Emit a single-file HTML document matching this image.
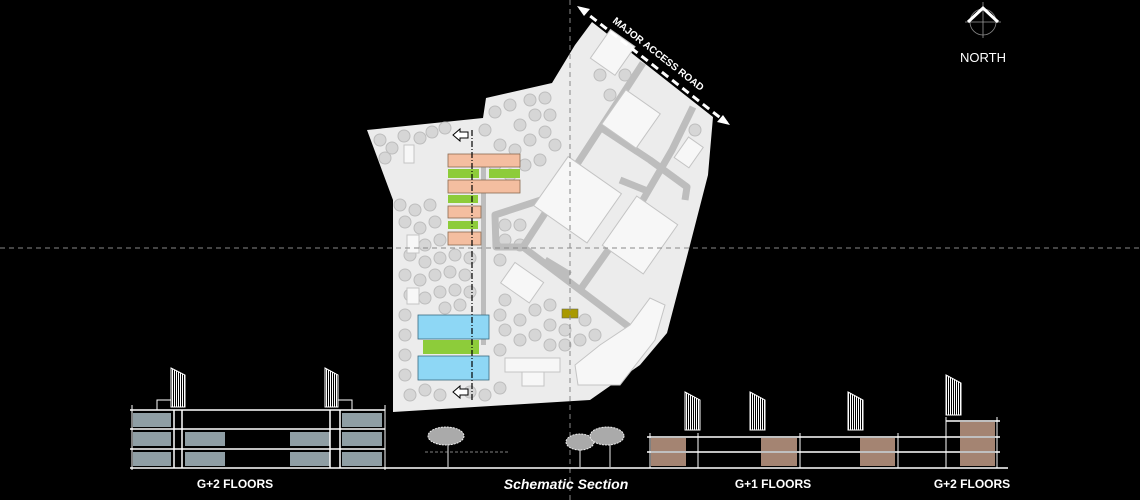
<!DOCTYPE html>
<html><head><meta charset="utf-8"><style>
html,body{margin:0;padding:0;background:#000;}
svg{display:block}
</style></head><body>
<svg width="1140" height="500" viewBox="0 0 1140 500" xmlns="http://www.w3.org/2000/svg" font-family="Liberation Sans, sans-serif">
<defs>
<pattern id="hatch" width="2" height="4" patternUnits="userSpaceOnUse"><rect width="1" height="4" fill="#fff"/></pattern>
</defs>
<rect width="1140" height="500" fill="#000"/>
<!-- site -->
<polygon points="367,130 483,118 486,98 552,83 575,45 592,22 713,117 708,175 690,245 667,333 640,365 590,400 393,412 393,200" fill="#ececec"/>
<!-- trees -->
<g fill="#d6d6d6" stroke="#bdbdbd" stroke-width="1">
<circle cx="380" cy="140" r="6"/><circle cx="392" cy="148" r="6"/><circle cx="385" cy="158" r="6"/><circle cx="404" cy="136" r="6"/><circle cx="420" cy="138" r="6"/><circle cx="432" cy="132" r="6"/><circle cx="445" cy="128" r="6"/><circle cx="485" cy="130" r="6"/><circle cx="495" cy="112" r="6"/><circle cx="510" cy="105" r="6"/><circle cx="530" cy="100" r="6"/><circle cx="545" cy="98" r="6"/><circle cx="550" cy="115" r="6"/><circle cx="535" cy="115" r="6"/><circle cx="520" cy="125" r="6"/><circle cx="500" cy="145" r="6"/><circle cx="515" cy="150" r="6"/><circle cx="530" cy="140" r="6"/><circle cx="545" cy="132" r="6"/><circle cx="555" cy="145" r="6"/><circle cx="495" cy="165" r="6"/><circle cx="510" cy="175" r="6"/><circle cx="525" cy="165" r="6"/><circle cx="540" cy="160" r="6"/>
<circle cx="400" cy="205" r="6"/><circle cx="415" cy="210" r="6"/><circle cx="430" cy="205" r="6"/><circle cx="405" cy="222" r="6"/><circle cx="420" cy="228" r="6"/><circle cx="435" cy="222" r="6"/><circle cx="440" cy="240" r="6"/><circle cx="425" cy="245" r="6"/><circle cx="410" cy="255" r="6"/><circle cx="425" cy="262" r="6"/><circle cx="440" cy="258" r="6"/><circle cx="455" cy="255" r="6"/><circle cx="470" cy="258" r="6"/><circle cx="405" cy="275" r="6"/><circle cx="420" cy="280" r="6"/><circle cx="435" cy="275" r="6"/><circle cx="450" cy="272" r="6"/><circle cx="465" cy="275" r="6"/><circle cx="410" cy="295" r="6"/><circle cx="425" cy="298" r="6"/><circle cx="440" cy="292" r="6"/><circle cx="455" cy="290" r="6"/><circle cx="470" cy="292" r="6"/><circle cx="445" cy="308" r="6"/><circle cx="460" cy="305" r="6"/><circle cx="405" cy="315" r="6"/><circle cx="405" cy="335" r="6"/><circle cx="405" cy="355" r="6"/><circle cx="405" cy="375" r="6"/><circle cx="410" cy="395" r="6"/><circle cx="425" cy="390" r="6"/><circle cx="440" cy="395" r="6"/><circle cx="470" cy="392" r="6"/><circle cx="485" cy="395" r="6"/><circle cx="500" cy="388" r="6"/>
<circle cx="505" cy="225" r="6"/><circle cx="520" cy="225" r="6"/><circle cx="505" cy="240" r="6"/><circle cx="520" cy="245" r="6"/><circle cx="500" cy="260" r="6"/><circle cx="505" cy="300" r="6"/><circle cx="500" cy="315" r="6"/><circle cx="505" cy="330" r="6"/><circle cx="520" cy="320" r="6"/><circle cx="535" cy="310" r="6"/><circle cx="550" cy="305" r="6"/><circle cx="520" cy="340" r="6"/><circle cx="535" cy="335" r="6"/><circle cx="550" cy="325" r="6"/><circle cx="565" cy="330" r="6"/><circle cx="585" cy="320" r="6"/><circle cx="595" cy="335" r="6"/><circle cx="580" cy="340" r="6"/><circle cx="565" cy="345" r="6"/><circle cx="550" cy="345" r="6"/><circle cx="500" cy="350" r="6"/><circle cx="610" cy="95" r="6"/><circle cx="625" cy="75" r="6"/><circle cx="600" cy="75" r="6"/><circle cx="690" cy="150" r="6"/><circle cx="695" cy="130" r="6"/>
</g>
<!-- roads -->
<g stroke="#bdbdbd" stroke-width="7" fill="none" stroke-linejoin="round">
<polyline points="643,63 523,247 637,333 605,362"/>
<polyline points="523,247 496,247 495,215 550,197"/>
<polyline points="693,107 672,150 640,205 580,290"/>
<polyline points="600,127 650,160 687,187 685,200"/>
<polyline points="620,180 650,192"/>
<polyline points="545,260 570,275"/>
</g>
<!-- buildings -->
<g fill="#f7f7f7" stroke="#c4c4c4" stroke-width="1">
<rect x="610" y="98" width="42" height="42" transform="rotate(35 631 119)"/>
<rect x="545" y="170" width="65" height="60" transform="rotate(35 578 200)"/>
<rect x="615" y="205" width="50" height="60" transform="rotate(35 640 235)"/>
<rect x="505" y="270" width="35" height="25" transform="rotate(35 522 282)"/>
<rect x="505" y="358" width="55" height="14"/><rect x="522" y="372" width="22" height="14"/>
<polygon points="575,365 600,345 630,325 650,298 665,305 655,340 620,385 578,385"/>
<rect x="680" y="140" width="18" height="25" transform="rotate(35 689 152)"/>
<rect x="404" y="145" width="10" height="18"/><rect x="407" y="235" width="12" height="18"/><rect x="407" y="288" width="12" height="16"/>
<rect x="598" y="35" width="30" height="35" transform="rotate(35 613 52)"/>
</g>
<!-- colored blocks -->
<rect x="481" y="167" width="5" height="178" fill="#bdbdbd"/>
<g stroke="#8a6a50" stroke-width="0.8">
<rect x="448" y="154" width="72" height="13" fill="#f4bea0"/>
<rect x="448" y="180" width="72" height="13" fill="#f4bea0"/>
<rect x="448" y="206" width="33" height="12" fill="#f4bea0"/>
<rect x="448" y="232" width="33" height="13" fill="#f4bea0"/>
</g>
<g fill="#8dcc3a">
<rect x="448" y="169" width="31" height="9"/><rect x="489" y="169" width="31" height="9"/>
<rect x="448" y="195" width="30" height="8"/><rect x="448" y="221" width="30" height="8"/>
<rect x="423" y="340" width="56" height="14"/>
</g>
<g fill="#8ed7f5" stroke="#3a6a80" stroke-width="0.8">
<rect x="418" y="315" width="71" height="24"/><rect x="418" y="356" width="71" height="24"/>
</g>
<rect x="562" y="309" width="16" height="9" fill="#a99900" stroke="#665" stroke-width="0.6"/>
<line x1="472" y1="130" x2="472" y2="400" stroke="#000" stroke-width="1.2" stroke-dasharray="6,2,1,2"/>
<g fill="#fff" stroke="#000" stroke-width="1">
<polygon points="453,135 460,129 460,132 468,132 468,138 460,138 460,141"/>
<polygon points="453,392 460,386 460,389 468,389 468,395 460,395 460,398"/>
</g>
<!-- crosshair -->
<line x1="0" y1="248" x2="1140" y2="248" stroke="#888" stroke-width="1" stroke-dasharray="5,4"/>
<line x1="570" y1="0" x2="570" y2="500" stroke="#888" stroke-width="1" stroke-dasharray="5,4"/>
<!-- access road -->
<line x1="580" y1="8" x2="727" y2="123" stroke="#fff" stroke-width="3" stroke-dasharray="8,5"/>
<polygon points="577,6 590,9 584,16" fill="#fff"/><polygon points="730,125 717,122 723,115" fill="#fff"/>
<text x="0" y="0" fill="#fff" font-size="10" font-weight="bold" transform="translate(612,22) rotate(38)">MAJOR ACCESS ROAD</text>
<!-- north -->
<circle cx="983" cy="22" r="13" fill="none" stroke="#888" stroke-width="0.8"/>
<line x1="983" y1="2" x2="983" y2="38" stroke="#999" stroke-width="0.8"/><line x1="965" y1="22" x2="1001" y2="22" stroke="#999" stroke-width="0.8"/>
<polyline points="968,22 983,8 998,22" fill="none" stroke="#fff" stroke-width="3"/>
<text x="983" y="62" fill="#fff" font-size="13" text-anchor="middle">NORTH</text>
<!-- left section -->
<g fill="#8f9ea4">
<rect x="133" y="413" width="38" height="14"/><rect x="133" y="432" width="38" height="14"/><rect x="133" y="452" width="38" height="14"/>
<rect x="342" y="413" width="40" height="14"/><rect x="342" y="432" width="40" height="14"/><rect x="342" y="452" width="40" height="14"/>
<rect x="185" y="432" width="40" height="14"/><rect x="185" y="452" width="40" height="14"/>
<rect x="290" y="432" width="40" height="14"/><rect x="290" y="452" width="40" height="14"/>
</g>
<g stroke="#fff" fill="none">
<line x1="130" y1="468" x2="645" y2="468" stroke-width="1.5"/>
<line x1="130" y1="410" x2="385" y2="410" stroke-width="1.5"/>
<line x1="130" y1="429" x2="385" y2="429" stroke-width="1.5"/>
<line x1="130" y1="449" x2="385" y2="449" stroke-width="1.5"/>
<line x1="132" y1="405" x2="132" y2="470"/><line x1="385" y1="405" x2="385" y2="470"/>
<line x1="174" y1="410" x2="174" y2="468" stroke-width="1.5"/><line x1="182" y1="410" x2="182" y2="468" stroke-width="1.5"/>
<line x1="330" y1="410" x2="330" y2="468" stroke-width="1.5"/><line x1="340" y1="410" x2="340" y2="468" stroke-width="1.5"/>
</g>
<g stroke="#fff" stroke-width="1">
<polygon points="171,368 185,375 185,407 171,407" fill="url(#hatch)"/><polygon points="325,368 338,375 338,407 325,407" fill="url(#hatch)"/>
<polyline points="157,410 157,400 171,400" fill="none"/><polyline points="338,400 352,400 352,410" fill="none"/>
</g>
<!-- trees in section -->
<g stroke="#eee" stroke-width="1" fill="#aaa">
<line x1="448" y1="440" x2="448" y2="467"/><ellipse cx="446" cy="436" rx="18" ry="9" stroke-dasharray="2,1"/>
<line x1="580" y1="445" x2="580" y2="467"/><ellipse cx="580" cy="442" rx="14" ry="8" stroke-dasharray="2,1"/>
<line x1="610" y1="440" x2="610" y2="467"/><ellipse cx="607" cy="436" rx="17" ry="9" stroke-dasharray="2,1"/>
</g>
<line x1="425" y1="452" x2="510" y2="452" stroke="#aaa" stroke-width="0.8" stroke-dasharray="3,2"/>
<!-- right section -->
<g fill="#a48472">
<rect x="651" y="438" width="35" height="13"/><rect x="651" y="453" width="35" height="13"/>
<rect x="761" y="438" width="36" height="13"/><rect x="761" y="453" width="36" height="13"/>
<rect x="860" y="438" width="35" height="13"/><rect x="860" y="453" width="35" height="13"/>
<rect x="960" y="422" width="35" height="14"/><rect x="960" y="438" width="35" height="13"/><rect x="960" y="453" width="35" height="13"/>
</g>
<g stroke="#fff" fill="none" stroke-width="1.5">
<line x1="645" y1="468" x2="1008" y2="468"/>
<line x1="647" y1="437" x2="1000" y2="437"/><line x1="647" y1="452" x2="1000" y2="452"/>
<line x1="946" y1="421" x2="1000" y2="421"/>
</g>
<g stroke="#fff" stroke-width="1">
<polygon points="685,392 700,400 700,430 685,430" fill="url(#hatch)"/><polygon points="750,392 765,400 765,430 750,430" fill="url(#hatch)"/>
<polygon points="848,392 863,400 863,430 848,430" fill="url(#hatch)"/><polygon points="946,375 961,383 961,415 946,415" fill="url(#hatch)"/>
<line x1="698" y1="433" x2="698" y2="468"/><line x1="800" y1="433" x2="800" y2="468"/><line x1="898" y1="433" x2="898" y2="468"/>
<line x1="946" y1="417" x2="946" y2="468"/><line x1="997" y1="417" x2="997" y2="468"/><line x1="650" y1="433" x2="650" y2="468"/>
</g>
<g fill="#fff" font-weight="bold" font-size="12">
<text x="235" y="488" text-anchor="middle">G+2 FLOORS</text>
<text x="566" y="489" text-anchor="middle" font-style="italic" font-size="14">Schematic Section</text>
<text x="773" y="488" text-anchor="middle">G+1 FLOORS</text>
<text x="972" y="488" text-anchor="middle">G+2 FLOORS</text>
</g>
</svg>
</body></html>
